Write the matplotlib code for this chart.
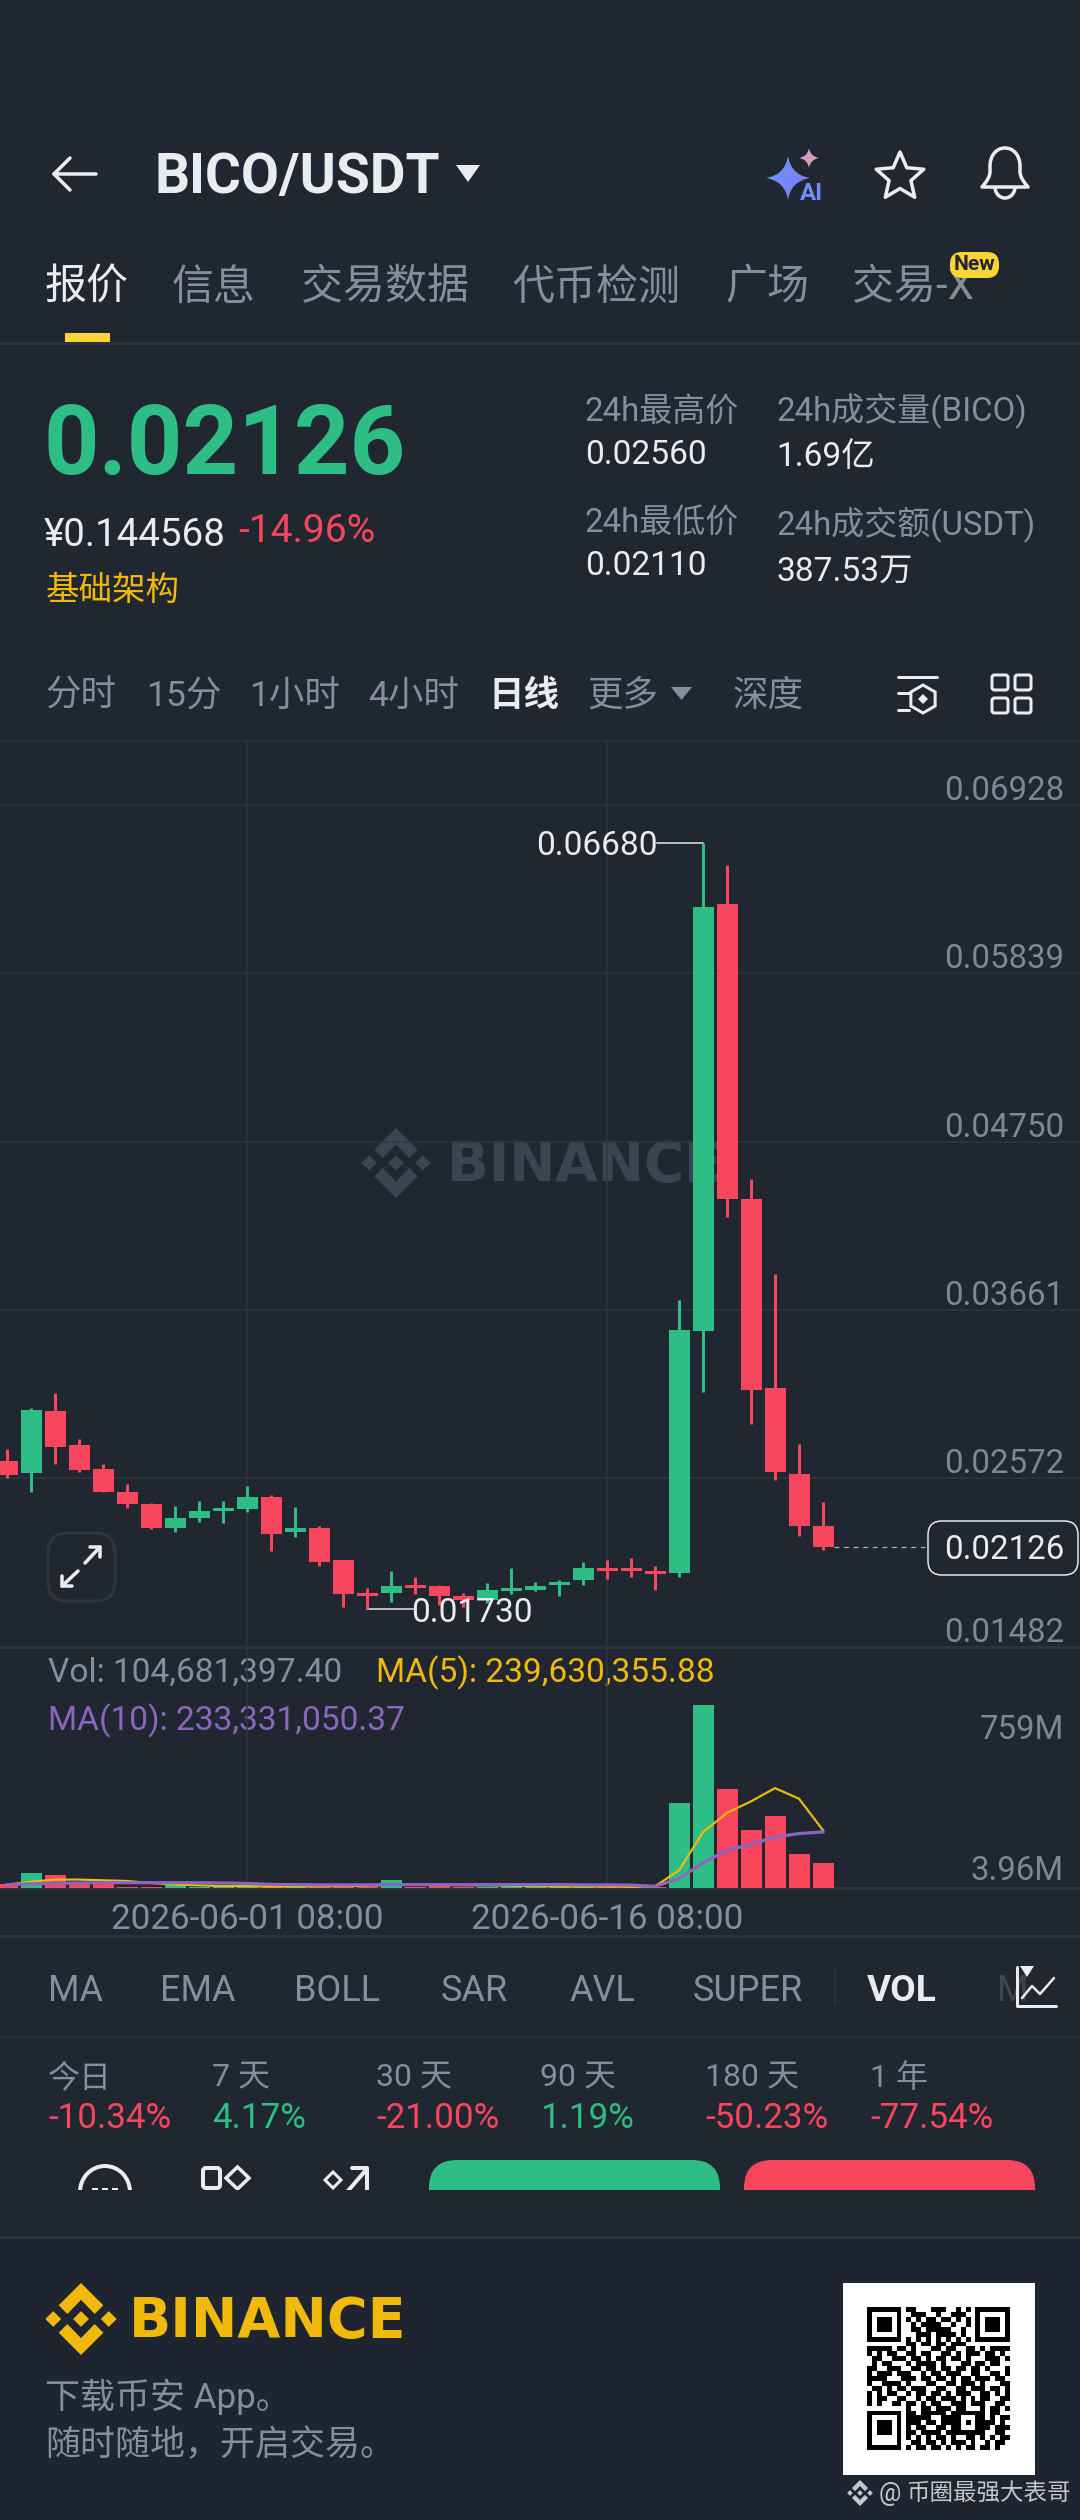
import math

import matplotlib
matplotlib.use("Agg")
import matplotlib.pyplot as plt
import numpy as np
from matplotlib.patches import FancyBboxPatch, PathPatch, Polygon, Rectangle, Arc
from matplotlib.path import Path

# daily candles, oldest first
opens = [.02685, .02605, .03006, .02786, .02635, .02485, .02405, .02254, .02316, .02364,
         .02375, .02454, .02224, .02254, .02045, .01833, .01833, .01883, .01874, .01814,
         .01784, .01844, .01853, .01883, .01913, .01995, .01995, .01974, .01959, .03528,
         .06289, .04377, .03154, .02603, .02264]
highs = [.02765, .03026, .03123, .02825, .02666, .02534, .02413, .02394, .02424, .02424,
         .02525, .02465, .02385, .02265, .02045, .01864, .01974, .01935, .01883, .01833,
         .01894, .01993, .01905, .01915, .02034, .02045, .02055, .02004, .03726, .06680,
         .06539, .04509, .03896, .02797, .02423]
lows = [.02575, .02485, .02666, .02616, .02487, .02383, .02243, .02224, .02293, .02284,
        .02355, .02103, .02193, .02004, .01743, .01730, .01773, .01825, .01754, .01743,
        .01764, .01823, .01844, .01812, .01883, .01924, .01935, .01853, .01935, .03130,
        .04266, .02925, .02565, .02198, .02108]
closes = [.02594, .03015, .02776, .02627, .02487, .02405, .02254, .02314, .02364, .02383,
          .02454, .02215, .02254, .02034, .01825, .01814, .01874, .01864, .01814, .01784,
          .01853, .01864, .01874, .01905, .01993, .01974, .01974, .01954, .03535, .06269,
          .04381, .03147, .02617, .02267, .02126]
# volume in millions
volumes = [15, 61, 53, 18, 18, 6, 5, 14, 5, 4, 4, 4, 7, 7, 7, 5, 32, 5, 18, 6, 5, 22, 5, 4,
           5, 4, 4, 4, 352, 759, 410, 240, 298, 143, 104.68]
ma5 = [14, 26, 35, 35, 32, 29, 21, 14, 11, 8, 8, 6, 6, 7, 8, 9, 13, 13, 12, 12, 11, 10, 8, 6,
       6, 6, 5, 7, 73, 232, 312, 360, 415, 371, 240]
ma10 = [14, 17, 19, 21, 22, 22, 22, 22, 22, 21, 19, 15, 14, 13, 13, 13, 14, 14, 14, 14, 14,
        14, 14, 14, 13, 13, 12, 7, 39, 104, 157, 181, 212, 226, 233]

price_ticks = [.06928, .05839, .04750, .03661, .02572, .01482]
date_ticks = [10, 25]
date_labels = ["2026-06-01 08:00", "2026-06-16 08:00"]
vol_ticks = [759, 3.96]
vol_tick_labels = ["759M", "3.96M"]

tabs = ["报价", "信息", "交易数据", "代币检测", "广场", "交易-X"]
tab_x = [47, 174, 303, 514, 727, 854]
frames = ["分时", "15分", "1小时", "4小时", "日线", "更多", "深度"]
frame_x = [47, 148, 251, 370, 491, 589, 735]
indicators = ["MA", "EMA", "BOLL", "SAR", "AVL", "SUPER", "VOL"]
indicator_x = [50, 162, 296, 443, 571, 695, 869]
periods = ["今日", "7 天", "30 天", "90 天", "180 天", "1 年"]
period_changes = ["-10.34%", "4.17%", "-21.00%", "1.19%", "-50.23%", "-77.54%"]
period_x = [50, 214, 378, 542, 707, 872]

qr_rows = [
    "11111110110001110010101111111",
    "10000010011100100111001000001",
    "10111010101011011010101011101",
    "10111010010111100100101011101",
    "10111010011011111001001011101",
    "10000010001110111101001000001",
    "11111110101010101010101111111",
    "00000000110110110111000000000",
    "11111011010001101100110101111",
    "10101100110110011010111011010",
    "01100111011010110110100011101",
    "01011000101111010001101101100",
    "11001110011011011011011010001",
    "10111011100101101110011001101",
    "11110001110110110101101110110",
    "10011110100011001101110100011",
    "01101011011100110011011101101",
    "10101100101101101011100110101",
    "10110011001011011101010110011",
    "10100110110101100111011100110",
    "00000000100110111011000101101",
    "11111110110111110111111101100",
    "10000010111110011110001101011",
    "10111010111011011110101111010",
    "10111010101100110110001110111",
    "10111010110111101111111100110",
    "10000010101010110100110101011",
    "10000010011011010111010010110",
    "11111110101101101010110110100",
]

BG = "#212731"
FOOT = "#1e2530"
GRID = "#2f3641"
LINE = "#2c333f"
GREEN = "#2ebd85"
RED = "#f8465d"
YELLOW = "#f0b90b"
GRAY = "#848e9c"
WHITE = "#eaecef"
PURPLE = "#8a66c0"
AXIS_TXT = "#7f8793"
MARK = "#3d444f"
FONT = ["Roboto", "Noto Sans CJK SC", "DejaVu Sans"]
PX = 0.72  # 100 dpi, so 1 px = 0.72 pt
W, H = 1080, 2520

plt.rcParams["font.family"] = FONT

fig = plt.figure(figsize=(W / 100, H / 100), dpi=100, facecolor=BG)
ui = fig.add_axes([0, 0, 1, 1], zorder=0)
ui.set_xlim(0, W)
ui.set_ylim(H, 0)
ui.axis("off")


def label(x, y, s, size, color=GRAY, ha="left", weight="normal", z=5, dy=3):
    # centre of the bbox sits a little above the glyphs, hence dy
    dx = -2 if ha == "left" else 0
    ui.text(x + dx, y + dy, s, fontsize=size * PX, color=color, ha=ha, va="center", weight=weight,
            family=FONT, zorder=z)


def stroke(xs, ys, color=WHITE, lw=3.5, z=5):
    ui.plot(xs, ys, color=color, lw=lw * PX, solid_capstyle="round", solid_joinstyle="round", zorder=z)


def rbox(x0, y0, x1, y1, r, fc="none", ec="none", lw=0, z=4):
    p = FancyBboxPatch((x0 + r, y0 + r), x1 - x0 - 2 * r, y1 - y0 - 2 * r,
                       boxstyle="round,pad=%f,rounding_size=%f" % (r, r),
                       fc=fc, ec=ec, lw=lw * PX, zorder=z)
    ui.add_patch(p)


def binance_logo(cx, cy, r, color, z=3):
    chev = [(0, -1), (.62, -.38), (.38, -.14), (0, -.53), (-.38, -.14), (-.62, -.38)]
    for sign in (1, -1):
        ui.add_patch(Polygon([(cx + a * r, cy + sign * b * r) for a, b in chev], fc=color, ec="none", zorder=z))
    for dx in (-.77, 0, .77):
        ui.add_patch(Polygon([(cx + (dx - .22) * r, cy), (cx + dx * r, cy - .22 * r),
                              (cx + (dx + .22) * r, cy), (cx + dx * r, cy + .22 * r)],
                             fc=color, ec="none", zorder=z))


def sparkle(cx, cy, r, c0, c1):
    k = .14 * r
    codes = [Path.MOVETO] + [Path.CURVE3] * 8
    verts = [(cx, cy - r), (cx + k, cy - k), (cx + r, cy), (cx + k, cy + k), (cx, cy + r),
             (cx - k, cy + k), (cx - r, cy), (cx - k, cy - k), (cx, cy - r)]
    patch = PathPatch(Path(verts, codes), fc="none", ec="none")
    ui.add_patch(patch)
    grad = np.linspace(0, 1, 32)[None, :] + np.linspace(0, 1, 32)[:, None]
    cmap = matplotlib.colors.LinearSegmentedColormap.from_list("s", [c0, c1])
    im = ui.imshow(grad, extent=(cx - r, cx + r, cy + r, cy - r), cmap=cmap, aspect="auto", zorder=5)
    im.set_clip_path(patch)
    ui.set_xlim(0, W)
    ui.set_ylim(H, 0)


# footer background and separators
ui.add_patch(Rectangle((0, 2237), W, H - 2237, fc=FOOT, ec="none", zorder=1))
for y, lw in [(343, 3), (741, 1.5), (2037, 1.5), (2237, 4)]:
    ui.plot([0, W], [y, y], color=LINE, lw=lw * PX, zorder=2)

# ---- header
stroke([96, 54, 70], [174, 174, 158])
stroke([54, 70], [174, 190])
label(156, 174, "BICO/USDT", 55, WHITE, weight="bold", dy=4)
ui.add_patch(Polygon([(456, 165), (480, 165), (468, 182)], fc=WHITE, ec="none", zorder=5))

sparkle(788, 178, 22, "#5aa5ff", "#8f6cf5")
sparkle(809, 158, 10, "#b99cf8", "#f0a080")
label(811, 193, "AI", 24, "#6f8fff", ha="center", weight="bold", z=6, dy=1)

star = [(900 + (25 if i % 2 == 0 else 11.5) * math.sin(i * math.pi / 5),
         177 - (25 if i % 2 == 0 else 11.5) * math.cos(i * math.pi / 5)) for i in range(10)]
ui.add_patch(Polygon(star, fc="none", ec=WHITE, lw=3.5 * PX, joinstyle="round", zorder=5))

bell = Path([(982, 187), (990, 178), (990, 172), (990, 166), (990, 156), (996, 148), (1005, 148),
             (1014, 148), (1020, 156), (1020, 166), (1020, 172), (1020, 178), (1028, 187), (982, 187)],
            [Path.MOVETO, Path.CURVE3, Path.CURVE3, Path.LINETO, Path.CURVE4, Path.CURVE4, Path.CURVE4,
             Path.CURVE4, Path.CURVE4, Path.CURVE4, Path.LINETO, Path.CURVE3, Path.CURVE3, Path.CLOSEPOLY])
ui.add_patch(PathPatch(bell, fc="none", ec=WHITE, lw=3.5 * PX, joinstyle="round", zorder=5))
ui.add_patch(Arc((1005, 187), 20, 22, theta1=0, theta2=180, ec=WHITE, lw=3.5 * PX, zorder=5))

for i, (s, x) in enumerate(zip(tabs, tab_x)):
    label(x, 284, s, 42, WHITE if i == 0 else GRAY, weight="medium" if i == 0 else "normal", dy=4)
ui.add_patch(Rectangle((65, 333), 45, 9, fc="#fcd535", ec="none", zorder=5))
rbox(950, 252, 999, 278, 12, fc="#fcd535", z=6)
label(974.5, 265, "New", 21, "#202630", ha="center", weight="bold", z=7, dy=0)

# ---- quote block
label(46, 442, "0.02126", 97, GREEN, weight="bold", dy=6)
label(46, 531, "¥0.144568", 38.5, WHITE, dy=4)
label(240, 529, "-14.96%", 39, RED)
label(48, 588, "基础架构", 33.5, YELLOW)
label(587, 410, "24h最高价", 33, GRAY)
label(587, 452, "0.02560", 33.5, WHITE)
label(778, 407, "24h成交量(BICO)", 33, GRAY)
label(778, 454, "1.69亿", 33.5, WHITE)
label(587, 520, "24h最低价", 33, GRAY)
label(587, 563, "0.02110", 33.5, WHITE)
label(778, 521, "24h成交额(USDT)", 33, GRAY)
label(778, 569, "387.53万", 33.5, WHITE)

# ---- timeframe row
for s, x in zip(frames, frame_x):
    on = s == "日线"
    label(x, 693, s, 35.5, WHITE if on else GRAY, weight="bold" if on else "normal")
ui.add_patch(Polygon([(671, 687), (692, 687), (681.5, 700)], fc=GRAY, ec="none", zorder=5))

stroke([898, 937], [677, 677], lw=3)
stroke([898, 909], [693, 693], lw=3)
stroke([898, 909], [710, 710], lw=3)
hexa = [(923 + 14 * math.sin(i * math.pi / 3), 699 - 14 * math.cos(i * math.pi / 3)) for i in range(6)]
ui.add_patch(Polygon(hexa, fc="none", ec=WHITE, lw=3 * PX, zorder=5))
ui.add_patch(Polygon([(923, 694), (928, 699), (923, 704), (918, 699)], fc=WHITE, ec="none", zorder=5))
for x0 in (992, 1015):
    for y0 in (675, 698):
        rbox(x0, y0, x0 + 16, y0 + 15, 2.5, ec=WHITE, lw=3)

# ---- chart watermark (sits under the candles)
binance_logo(396, 1163, 35, MARK, z=1)
ui.text(447, 1166, "BINANCE", fontsize=55 * PX, color=MARK, ha="left", va="center",
        weight="bold", family="DejaVu Sans", zorder=1)

# ---- price panel
x_lim = (-7 / 24, (W - 7) / 24)
TOP, BOT = 741, 1647
ax = fig.add_axes([0, 1 - BOT / H, 1, (BOT - TOP) / H], zorder=2)
ax.patch.set_alpha(0)
ax.set_xlim(*x_lim)
ax.set_ylim(.01482, .07342)
ax.set_xticks(date_ticks)
ax.set_yticks(price_ticks)
ax.set_xticklabels([])
ax.set_yticklabels([])
ax.tick_params(length=0)
ax.grid(True, color=GRID, lw=1.5 * PX)
ax.set_axisbelow(True)
for name, sp in ax.spines.items():
    sp.set_visible(name == "bottom")
    sp.set_color(LINE)
    sp.set_linewidth(3 * PX)

idx = np.arange(len(opens))
o, h, l, c = map(np.array, (opens, highs, lows, closes))
colors = [GREEN if cl >= op else RED for op, cl in zip(o, c)]
ax.vlines(idx, l, h, colors=colors, lw=3 * PX, zorder=3)
ax.bar(idx, np.abs(c - o), bottom=np.minimum(o, c), width=.875, color=colors, zorder=4)

for t in price_ticks:
    ax.annotate("%.5f" % t, xy=(1, t), xycoords=("axes fraction", "data"), xytext=(-16, 14),
                textcoords="offset pixels", ha="right", va="center", fontsize=33 * PX, color=AXIS_TXT)

hi_i = int(np.argmax(h))
lo_i = int(np.argmin(l))
ax.plot([hi_i, hi_i - 1.9], [h[hi_i], h[hi_i]], color=WHITE, lw=1.5 * PX, zorder=2)
ax.annotate("%.5f" % h[hi_i], xy=(hi_i - 1.9, h[hi_i]), xytext=(0, -3), textcoords="offset pixels",
            ha="right", va="center", color=WHITE, fontsize=33.5 * PX)
ax.plot([lo_i, lo_i + 1.9], [l[lo_i], l[lo_i]], color=WHITE, lw=1.5 * PX, zorder=2)
ax.annotate("%.5f" % l[lo_i], xy=(lo_i + 1.85, l[lo_i]), xytext=(0, -4), textcoords="offset pixels",
            ha="left", va="center", color=WHITE, fontsize=33.5 * PX, zorder=5)
ax.plot([idx[-1] + .45, 38.25], [c[-1], c[-1]], color="#aeb4bc", lw=1.2 * PX, dashes=(4, 4))

rbox(928, 1521, 1078, 1575, 14, fc=BG, ec=WHITE, lw=1.5, z=3)
label(1064, 1548, "%.5f" % c[-1], 33, WHITE, ha="right", dy=2)

# expand button
rbox(48, 1533, 115, 1601, 20, ec=GRID, lw=3, z=3)
stroke([85, 100], [1563, 1547], lw=3.5)
stroke([90, 100, 100], [1547, 1547, 1557], lw=3.5)
stroke([78, 62], [1571, 1586], lw=3.5)
stroke([62, 62, 72], [1576, 1586, 1586], lw=3.5)

# ---- volume panel
VT, VB = 1649, 1888
vx = fig.add_axes([0, 1 - VB / H, 1, (VB - VT) / H], zorder=2)
vx.patch.set_alpha(0)
vx.set_xlim(*x_lim)
vx.set_ylim(0, 993)
vx.set_yticks([])
vx.set_xticks(date_ticks)
vx.set_xticklabels(date_labels, fontsize=35 * PX, color=GRAY)
vx.tick_params(length=0, pad=11)
vx.grid(True, axis="x", color=GRID, lw=1.5 * PX)
vx.set_axisbelow(True)
for name, sp in vx.spines.items():
    sp.set_visible(name == "bottom")
    sp.set_color(LINE)
    sp.set_linewidth(3 * PX)
vx.bar(idx, volumes, width=.875, color=colors, zorder=3)
vx.plot(idx, ma5, color=YELLOW, lw=2.2 * PX, zorder=4)
vx.plot(idx, ma10, color=PURPLE, lw=3.2 * PX, zorder=5)
vol_offsets = [-25, 16]
for t, s, off in zip(vol_ticks, vol_tick_labels, vol_offsets):
    vx.annotate(s, xy=(1, t), xycoords=("axes fraction", "data"), xytext=(-16, off),
                textcoords="offset pixels", ha="right", va="center", fontsize=33 * PX, color=AXIS_TXT)

label(50, 1670, "Vol: 104,681,397.40", 33.5, GRAY)
label(378, 1670, "MA(5): 239,630,355.88", 33.5, YELLOW)
label(50, 1718, "MA(10): 233,331,050.37", 33.5, PURPLE)
ui.plot([0, W], [1936, 1936], color=LINE, lw=3 * PX, zorder=2)

# ---- indicator row
for s, x in zip(indicators, indicator_x):
    on = s == "VOL"
    label(x, 1988, s, 37 if on else 36, WHITE if on else GRAY, weight="bold" if on else "normal")
ui.plot([835, 835], [1968, 2004], color=GRID, lw=1.5 * PX, zorder=2)
label(999, 1988, "M", 36, "#3f4652")
stroke([1017, 1017, 1056], [1967, 2006, 2006], lw=3)
stroke([1022, 1032, 1040, 1054], [1998, 1986, 1994, 1978], lw=2.5)
ui.add_patch(Polygon([(1020, 1966), (1034, 1966), (1027, 1977)], fc=WHITE, ec="none", zorder=6))

for s, ch, x in zip(periods, period_changes, period_x):
    label(x, 2076, s, 32, GRAY, dy=2)
    label(x, 2116, ch, 35, RED if ch.startswith("-") else GREEN, dy=2)

# ---- trade bar, cut off at y=2190 like the screenshot
rbox(429, 2160, 720, 2230, 28, fc=GREEN, z=3)
rbox(744, 2160, 1035, 2230, 28, fc=RED, z=3)
ui.add_patch(Arc((105, 2192), 50, 52, theta1=180, theta2=360, ec=WHITE, lw=4 * PX, zorder=3))
ui.plot([92, 120], [2188.5, 2188.5], color=WHITE, lw=2 * PX, dashes=(3, 2), zorder=3)
rbox(203, 2168, 220, 2188, 3, ec=WHITE, lw=4, z=3)
ui.add_patch(Polygon([(226, 2178), (237.5, 2167), (249, 2178), (237.5, 2189)], fc="none", ec=WHITE, lw=3.5 * PX, zorder=3))
ui.add_patch(Polygon([(325, 2180), (333, 2172), (341, 2180), (333, 2188)], fc="none", ec=WHITE, lw=3 * PX, zorder=3))
stroke([347, 366], [2192, 2170], lw=4, z=3)
stroke([352, 367, 367], [2168, 2168, 2192], lw=4, z=3)
ui.add_patch(Rectangle((0, 2190), W, 46, fc=BG, ec="none", zorder=4))

# ---- footer
binance_logo(81, 2319, 36, YELLOW, z=5)
ui.text(129, 2322, "BINANCE", fontsize=55.5 * PX, color=YELLOW, ha="left", va="center", weight="bold",
        family="DejaVu Sans", zorder=5)
label(47, 2394, "下载币安 App。", 35, GRAY)
label(47, 2442, "随时随地，开启交易。", 35, GRAY)

ui.add_patch(Rectangle((843, 2283), 192, 192, fc="white", ec="none", zorder=3))
qr = np.array([[int(ch) for ch in row] for row in qr_rows])
ui.imshow(1 - qr, extent=(867, 1010, 2450, 2307), cmap="gray", vmin=0, vmax=1, aspect="auto",
          interpolation="nearest", zorder=4)
ui.set_xlim(0, W)
ui.set_ylim(H, 0)

binance_logo(860, 2493, 13, "#c4c8ce", z=5)
label(881, 2493, "@", 25, "#c4c8ce", dy=1)
label(908, 2493, "币圈最强大表哥", 23.5, "#c4c8ce", dy=1)

fig.savefig("out.png", dpi=100, facecolor=BG)
